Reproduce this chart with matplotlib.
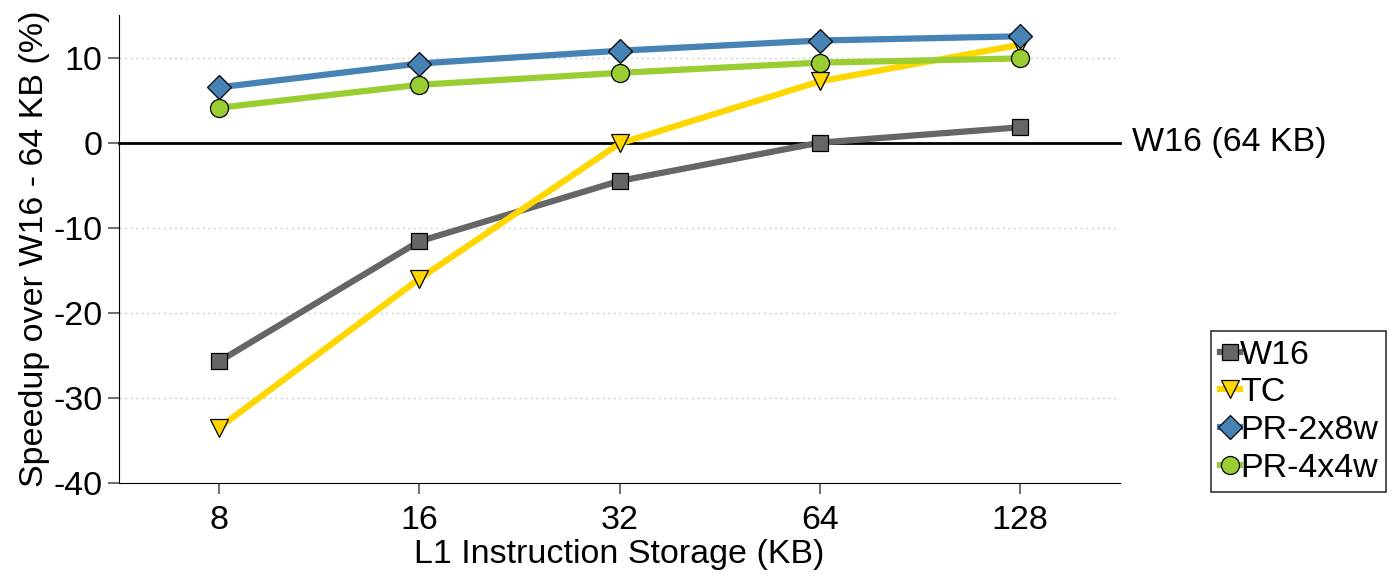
import matplotlib
matplotlib.use("Agg")
import matplotlib.pyplot as plt
import numpy as np

plt.rcParams['font.family'] = ['Liberation Sans', 'DejaVu Sans']
plt.rcParams['axes.unicode_minus'] = False

categories = ["8", "16", "32", "64", "128"]
w16 = [-25.7, -11.6, -4.5, 0.0, 1.8]
tc = [-33.5, -16.0, -0.1, 7.2, 11.5]
pr2x8w = [6.5, 9.3, 10.8, 12.0, 12.5]
pr4x4w = [4.1, 6.8, 8.2, 9.4, 9.9]
yticks = [-40, -30, -20, -10, 0, 10]

FS = 24.5

fig = plt.figure(figsize=(13.96, 5.76), dpi=100)
ax = fig.add_axes([119/1396, 1-483/576, (1120-119)/1396, (483-15)/576])

x = np.arange(len(categories))
for yv in [-30, -20, -10, 10]:
    ax.axhline(yv, color='#d0d0d0', lw=1.0, ls=(0, (1.5, 2.5)), zorder=1)
ax.axhline(0, color='black', lw=2, zorder=2, clip_on=False)

series = [
    ("W16", w16, '#666666', 's', 12),
    ("TC", tc, '#FFD700', 'v', 13),
    ("PR-2x8w", pr2x8w, '#4682B4', 'D', 12),
    ("PR-4x4w", pr4x4w, '#9ACD32', 'o', 13),
]
handles = []
for name, vals, col, mk, ms in series:
    h, = ax.plot(x, vals, color=col, lw=4.5, marker=mk, ms=ms,
                 markerfacecolor=col, markeredgecolor='black', markeredgewidth=0.9,
                 zorder=3, label=name, clip_on=False)
    handles.append(h)

ax.set_xlim(-0.5, 4.5)
ax.set_ylim(-40, 15)
ax.set_xticks(x)
ax.set_xticklabels(categories)
ax.set_yticks(yticks)
ax.tick_params(axis='both', labelsize=FS, length=8, width=1.2, color='#555555', direction='out')
ax.tick_params(axis='x', pad=8)
ax.tick_params(axis='y', pad=4)
ax.spines['top'].set_visible(False)
ax.spines['right'].set_visible(False)
ax.set_xlabel("L1 Instruction Storage (KB)", fontsize=FS, labelpad=2)
ax.set_ylabel("Speedup over W16 - 64 KB (%)", fontsize=FS, labelpad=2)

ax.text(1.012, 0, "W16 (64 KB)", transform=ax.get_yaxis_transform(), fontsize=FS,
        va='center', ha='left')

leg = fig.legend(handles=handles, loc='upper left', bbox_to_anchor=(1211/1396, 1-331/576),
                 fontsize=FS, frameon=True, fancybox=False, edgecolor='black',
                 handlelength=0.6, handletextpad=0.0, borderpad=0.25, labelspacing=0.2,
                 borderaxespad=0)
leg.get_frame().set_linewidth(1.2)

fig.savefig("out.png", dpi=100)
